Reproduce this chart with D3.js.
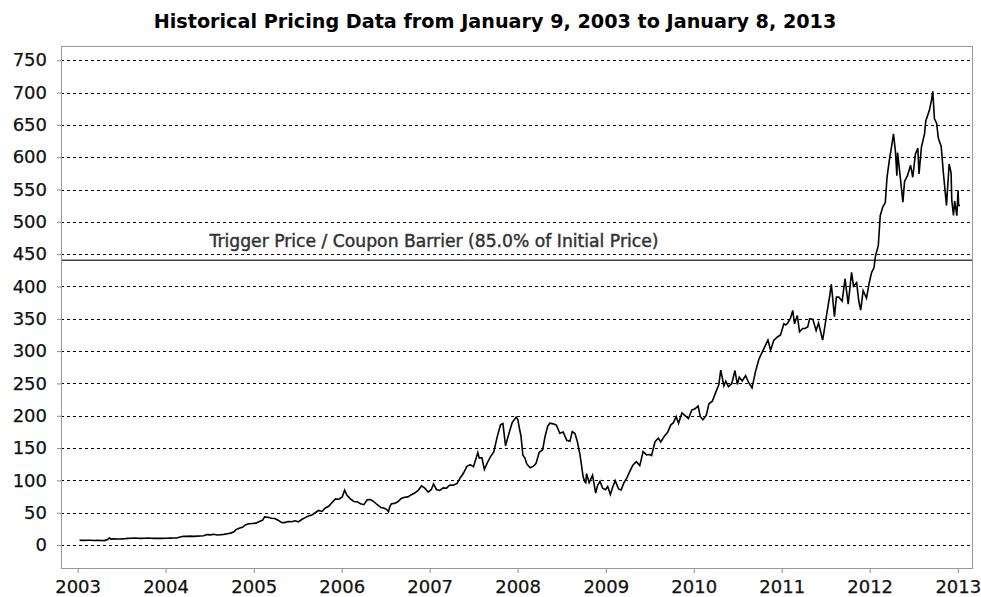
<!DOCTYPE html>
<html>
<head>
<meta charset="utf-8">
<script src="https://cdn.jsdelivr.net/npm/d3@7"></script>
<style>
body { margin: 0; background: #fff; }
</style>
</head>
<body>
<script>
// closing prices, [month-day, price]
var prices2003 = [['01-09', 7.4], ['01-24', 7.3], ['02-10', 7.5], ['02-24', 7.4], ['03-10', 7.1], ['03-24', 7.3],
    ['04-08', 7.0], ['04-22', 6.9], ['05-06', 8.6], ['05-12', 11.0], ['05-20', 9.3], ['06-03', 9.6], ['06-17', 9.5],
    ['07-01', 9.6], ['07-14', 9.9], ['07-28', 10.4], ['08-11', 10.5], ['08-25', 10.7], ['09-08', 10.6], ['09-22', 10.4],
    ['10-06', 10.6], ['10-20', 10.8], ['11-03', 10.5], ['11-17', 10.3], ['12-01', 10.6], ['12-15', 10.4]]
var prices2004 = [['01-05', 10.5], ['01-20', 10.8], ['02-03', 10.9], ['02-17', 11.0], ['03-01', 12.5], ['03-15', 13.6],
    ['03-29', 13.5], ['04-12', 13.9], ['04-26', 13.5], ['05-10', 13.8], ['05-24', 14.0], ['06-07', 14.4], ['06-21', 16.2],
    ['07-06', 15.8], ['07-19', 16.8], ['08-02', 15.5], ['08-16', 16.0], ['08-30', 16.6], ['09-13', 17.5], ['09-27', 18.5],
    ['10-11', 20.5], ['10-18', 23.5], ['11-01', 26.0], ['11-15', 27.5], ['11-29', 31.5], ['12-13', 33.0], ['12-27', 33.5]]
var prices2005 = [['01-10', 34.0], ['01-24', 36.5], ['02-07', 38.5], ['02-15', 43.5], ['03-01', 43.0], ['03-15', 41.5],
    ['03-29', 41.0], ['04-12', 38.5], ['04-26', 35.0], ['05-10', 34.8], ['05-24', 36.5], ['06-07', 36.0], ['06-21', 37.5],
    ['07-05', 36.0], ['07-19', 39.5], ['08-02', 42.5], ['08-16', 45.0], ['08-30', 46.5], ['09-13', 50.0], ['09-27', 53.5],
    ['10-11', 52.0], ['10-25', 57.5], ['11-08', 60.0], ['11-22', 66.0], ['12-06', 71.5], ['12-20', 71.0]]
var prices2006 = [['01-03', 74.5], ['01-13', 85.0], ['01-23', 77.0], ['02-06', 71.5], ['02-20', 67.5], ['03-06', 67.0],
    ['03-20', 64.0], ['04-03', 62.5], ['04-17', 70.0], ['05-01', 70.5], ['05-15', 67.0], ['05-30', 62.0], ['06-13', 58.0],
    ['06-27', 57.0], ['07-07', 55.0], ['07-14', 51.5], ['07-20', 60.0], ['07-27', 64.0], ['08-08', 64.5], ['08-22', 67.0],
    ['09-05', 72.0], ['09-19', 74.0], ['10-03', 74.5], ['10-17', 78.0], ['10-31', 80.5], ['11-14', 84.5], ['11-28', 91.5],
    ['12-12', 88.0], ['12-26', 82.0]]
var prices2007 = [['01-08', 86.0], ['01-17', 94.5], ['01-29', 86.0], ['02-12', 84.5], ['02-26', 88.5], ['03-12', 88.0],
    ['03-26', 93.0], ['04-09', 92.5], ['04-25', 95.5], ['05-07', 103.5], ['05-21', 111.0], ['06-04', 121.5], ['06-18', 124.5],
    ['07-02', 121.0], ['07-20', 143.0], ['07-26', 134.5], ['08-06', 135.0], ['08-16', 117.0], ['08-28', 127.0],
    ['09-10', 136.5], ['09-24', 144.0], ['10-08', 167.0], ['10-22', 186.0], ['11-01', 188.0], ['11-12', 153.5],
    ['11-26', 172.5], ['12-10', 190.0], ['12-26', 198.0]]
var prices2008 = [['01-02', 194.0], ['01-09', 179.5], ['01-15', 169.0], ['01-23', 139.0], ['01-31', 135.0], ['02-08', 125.5],
    ['02-22', 119.5], ['03-07', 122.0], ['03-17', 126.0], ['03-31', 143.5], ['04-14', 147.5], ['04-24', 168.0],
    ['05-05', 184.0], ['05-14', 188.5], ['05-28', 187.5], ['06-10', 185.5], ['06-24', 173.0], ['07-08', 175.0],
    ['07-15', 169.0], ['07-23', 162.0], ['08-05', 160.5], ['08-15', 175.5], ['08-26', 172.5], ['09-05', 160.0],
    ['09-16', 139.5], ['09-29', 105.5], ['10-06', 98.0], ['10-10', 96.5], ['10-13', 110.5], ['10-24', 96.5],
    ['11-07', 108.0], ['11-20', 80.5], ['11-28', 92.5], ['12-08', 98.5], ['12-19', 88.0], ['12-31', 85.5]]
var prices2009 = [['01-09', 90.5], ['01-20', 78.2], ['01-30', 90.0], ['02-09', 99.7], ['02-23', 86.9], ['03-06', 85.3],
    ['03-16', 95.4], ['03-30', 104.5], ['04-13', 116.0], ['04-24', 124.0], ['05-08', 129.0], ['05-22', 123.0],
    ['06-05', 144.5], ['06-19', 139.5], ['07-02', 140.0], ['07-10', 138.5], ['07-24', 159.5], ['08-07', 165.5],
    ['08-17', 159.5], ['08-31', 168.0], ['09-14', 174.0], ['09-28', 186.0], ['10-08', 189.0], ['10-20', 198.8],
    ['10-30', 188.5], ['11-13', 204.5], ['11-27', 200.0], ['12-10', 195.5], ['12-24', 209.0]]
var prices2010 = [['01-05', 210.5], ['01-19', 215.0], ['01-28', 199.0], ['02-08', 194.0], ['02-22', 200.5], ['03-05', 218.5],
    ['03-19', 222.5], ['04-01', 235.0], ['04-15', 248.0], ['04-23', 270.5], ['05-06', 246.5], ['05-14', 253.5],
    ['05-25', 245.0], ['06-08', 250.0], ['06-21', 270.0], ['07-01', 248.5], ['07-09', 259.5], ['07-21', 254.0],
    ['08-04', 262.0], ['08-17', 251.5], ['08-31', 243.0], ['09-14', 268.0], ['09-28', 287.0], ['10-12', 298.5],
    ['10-25', 308.5], ['11-05', 317.0], ['11-16', 301.5], ['11-29', 316.5], ['12-13', 321.5], ['12-27', 325.0]]
var prices2011 = [['01-10', 342.5], ['01-18', 340.5], ['01-26', 343.5], ['02-07', 351.5], ['02-16', 363.0], ['02-23', 342.5],
    ['03-07', 355.0], ['03-16', 330.0], ['03-29', 335.0], ['04-08', 335.0], ['04-19', 337.5], ['04-27', 350.0],
    ['05-10', 349.5], ['05-24', 332.0], ['06-03', 343.5], ['06-20', 317.0], ['06-27', 333.0], ['07-08', 360.0],
    ['07-20', 387.0], ['07-26', 403.5], ['08-08', 353.5], ['08-16', 383.5], ['08-26', 383.5], ['09-09', 377.5],
    ['09-21', 412.0], ['10-04', 372.5], ['10-18', 422.0], ['10-26', 400.5], ['11-08', 406.0], ['11-17', 377.5],
    ['11-25', 363.5], ['12-05', 393.5], ['12-19', 382.0], ['12-30', 405.0]]
var prices2012 = [['01-09', 421.5], ['01-19', 429.0], ['01-25', 446.5], ['02-06', 463.5], ['02-14', 509.5], ['02-24', 522.5],
    ['03-06', 530.0], ['03-13', 568.0], ['03-23', 596.0], ['04-02', 618.5], ['04-09', 636.0], ['04-17', 609.5],
    ['04-23', 571.5], ['04-26', 607.0], ['05-07', 569.5], ['05-18', 530.5], ['05-25', 562.5], ['06-06', 571.5],
    ['06-19', 587.5], ['06-28', 569.0], ['07-09', 605.0], ['07-19', 614.0], ['07-24', 574.0], ['08-03', 615.5],
    ['08-16', 636.5], ['08-21', 656.0], ['09-05', 672.5], ['09-14', 688.5], ['09-19', 702.0], ['09-26', 659.5],
    ['10-05', 652.5], ['10-12', 629.5], ['10-24', 616.5], ['11-02', 576.0], ['11-15', 525.5], ['11-26', 589.5],
    ['12-04', 575.8], ['12-07', 533.0], ['12-14', 509.8], ['12-19', 532.0], ['12-28', 509.6]]
var prices2013 = [['01-02', 549.0], ['01-04', 527.0], ['01-08', 523.9]]

var yTickValues = [0, 50, 100, 150, 200, 250, 300, 350, 400, 450, 500, 550, 600, 650, 700, 750]
var xTickYears = [2003, 2004, 2005, 2006, 2007, 2008, 2009, 2010, 2011, 2012, 2013]

var barrierPrice = 440.7
var barrierLabel = 'Trigger Price / Coupon Barrier (85.0% of Initial Price)'
var chartTitle = 'Historical Pricing Data from January 9, 2003 to January 8, 2013'

var margin = { top: 46, right: 8, bottom: 28, left: 61 },
    width = 981 - margin.left - margin.right,
    height = 597 - margin.top - margin.bottom

var parseDate = d3.timeParse('%Y-%m-%d')

// flatten the yearly arrays
var data = [[2003, prices2003], [2004, prices2004], [2005, prices2005], [2006, prices2006],
    [2007, prices2007], [2008, prices2008], [2009, prices2009], [2010, prices2010],
    [2011, prices2011], [2012, prices2012], [2013, prices2013]]
    .flatMap(([yr, rows]) => rows.map(r => ({ date: parseDate(yr + '-' + r[0]), price: r[1] })))

// ranges
var x = d3.scaleTime()
    .domain([new Date(2002, 9, 24), new Date(2013, 2, 5)])
    .range([0, width])
var y = d3.scaleLinear()
    .domain([-37, 772])
    .range([height, 0])

var valueline = d3.line()
    .x(d => x(d.date))
    .y(d => y(d.price))

var root = d3.select('body').append('svg')
    .attr('width', width + margin.left + margin.right)
    .attr('height', height + margin.top + margin.bottom)
    .style('font-family', '"DejaVu Sans", sans-serif')

root.append('text')
    .attr('x', margin.left + width / 2 - 22)
    .attr('y', 28)
    .style('text-anchor', 'middle')
    .attr('font-size', 19.2)
    .attr('font-weight', 'bold')
    .attr('fill', '#000')
    .text(chartTitle)

var svg = root.append('g')
    .attr('transform', 'translate(' + margin.left + ',' + margin.top + ')')

// dashed grid
svg.selectAll('.grid')
    .data(yTickValues)
    .enter().append('line')
    .attr('class', 'grid')
    .attr('x1', 0)
    .attr('x2', width)
    .attr('y1', d => Math.round(y(d)) + 0.5)
    .attr('y2', d => Math.round(y(d)) + 0.5)
    .attr('stroke', '#000')
    .attr('stroke-dasharray', '3,3')

// barrier line + label
svg.append('line')
    .attr('x1', 0)
    .attr('x2', width)
    .attr('y1', y(barrierPrice))
    .attr('y2', y(barrierPrice))
    .attr('stroke', '#444')
    .attr('stroke-width', 1.5)

svg.append('text')
    .attr('x', x(new Date(2004, 6, 1)))
    .attr('y', y(barrierPrice) - 13)
    .attr('font-size', 17.2)
    .attr('fill', '#333')
    .attr('stroke', '#333')
    .attr('stroke-width', 0.45)
    .text(barrierLabel)

// price path
svg.append('path')
    .data([data])
    .attr('fill', 'none')
    .attr('stroke', '#000')
    .attr('stroke-width', 1.6)
    .attr('d', valueline)

// frame
svg.append('rect')
    .attr('x', 0.5)
    .attr('y', 0.5)
    .attr('width', width - 1)
    .attr('height', height - 1)
    .attr('fill', 'none')
    .attr('stroke', '#999')

// y-axis
var yAxis = svg.append('g')
    .call(d3.axisLeft(y).tickValues(yTickValues).tickSize(4).tickPadding(10))
yAxis.select('.domain').remove()
yAxis.selectAll('line').attr('stroke', '#888')
yAxis.selectAll('text').attr('font-size', 18).attr('font-family', '"DejaVu Sans", sans-serif')
    .attr('fill', '#111').attr('stroke', '#111').attr('stroke-width', 0.25)

// x-axis
var xAxis = svg.append('g')
    .attr('transform', 'translate(0, ' + height + ')')
    .call(d3.axisBottom(x)
        .tickValues(xTickYears.map(yr => new Date(yr, 0, 1)))
        .tickFormat(d3.timeFormat('%Y'))
        .tickSize(4)
        .tickPadding(7))
xAxis.select('.domain').remove()
xAxis.selectAll('line').attr('stroke', '#888')
xAxis.selectAll('text').attr('font-size', 18).attr('font-family', '"DejaVu Sans", sans-serif')
    .attr('fill', '#111').attr('stroke', '#111').attr('stroke-width', 0.25)
</script>
</body>
</html>
